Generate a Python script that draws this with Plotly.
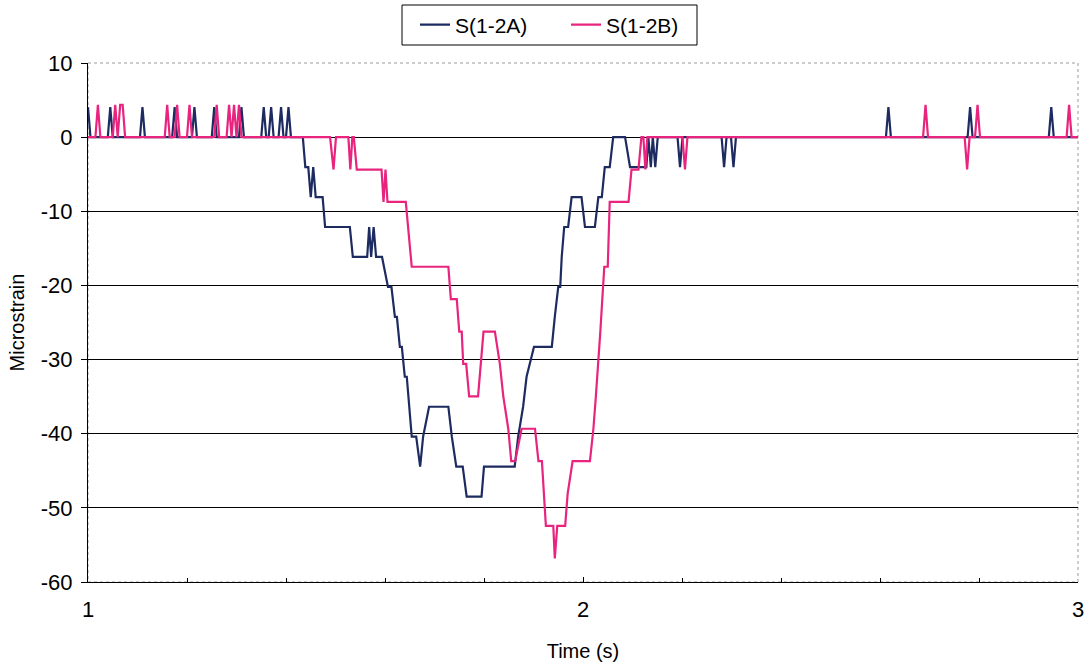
import plotly.graph_objects as go

# ---- data (time in s, microstrain) ----
blue_t = [1.000, 1.005,
          1.040, 1.045, 1.050,
          1.105, 1.110, 1.115,
          1.170, 1.175, 1.180,
          1.210, 1.215, 1.220,
          1.250, 1.255, 1.260,
          1.305, 1.310, 1.315,
          1.350, 1.355, 1.360,
          1.365, 1.370, 1.375,
          1.385, 1.390, 1.395,
          1.400, 1.405, 1.410,
          1.434, 1.439, 1.445, 1.450, 1.455, 1.460, 1.474, 1.479, 1.529, 1.535,
          1.564, 1.568, 1.572, 1.577, 1.582, 1.594, 1.606, 1.613, 1.620, 1.624,
          1.630, 1.634, 1.640, 1.644, 1.654, 1.663, 1.671, 1.677, 1.689, 1.728,
          1.735, 1.744, 1.757, 1.765, 1.795, 1.800, 1.862, 1.869, 1.879, 1.886,
          1.901, 1.937, 1.943, 1.950, 1.954, 1.957, 1.962, 1.970, 1.977, 1.997,
          2.004, 2.024, 2.031, 2.038, 2.044, 2.054, 2.061, 2.085, 2.095, 2.128,
          2.132, 2.137, 2.141, 2.146, 2.151,
          2.191, 2.196, 2.201,
          2.280, 2.285, 2.290,
          2.299, 2.304, 2.309,
          2.612, 2.617, 2.622,
          2.777, 2.782, 2.787,
          2.941, 2.946, 2.951,
          3.000]
blue_v = [4.04, 0,
          0, 4.04, 0,
          0, 4.04, 0,
          0, 4.04, 0,
          0, 4.04, 0,
          0, 4.04, 0,
          0, 4.04, 0,
          0, 4.04, 0,
          0, 4.04, 0,
          0, 4.04, 0,
          0, 4.04, 0,
          0, -4.04, -4.04, -8.08, -4.04, -8.08, -8.08, -12.12, -12.12, -16.16,
          -16.16, -12.12, -16.16, -12.12, -16.16, -16.16, -20.2, -20.2, -24.24, -24.24,
          -28.28, -28.28, -32.32, -32.32, -40.4, -40.4, -44.44, -40.4, -36.36, -36.36,
          -40.4, -44.44, -44.44, -48.48, -48.48, -44.44, -44.44, -40.4, -36.36, -32.32,
          -28.28, -28.28, -24.24, -20.2, -20.2, -16.16, -12.12, -12.12, -8.08, -8.08,
          -12.12, -12.12, -8.08, -8.08, -4.04, -4.04, 0, 0, -4.04, -4.04,
          0, -4.04, 0, -4.04, 0,
          0, -4.04, 0,
          0, -4.04, 0,
          0, -4.04, 0,
          0, 4.04, 0,
          0, 4.04, 0,
          0, 4.04, 0,
          0]

pink_t = [1.000,
          1.015, 1.020, 1.025,
          1.050, 1.055, 1.060, 1.065, 1.070, 1.075,
          1.155, 1.160, 1.165,
          1.175, 1.180, 1.185,
          1.200, 1.205, 1.210,
          1.255, 1.260, 1.265,
          1.280, 1.285, 1.290, 1.295, 1.300, 1.305, 1.310,
          1.489, 1.496, 1.501, 1.526, 1.530, 1.534, 1.537, 1.543, 1.593, 1.597,
          1.601, 1.605, 1.642, 1.654, 1.728, 1.733, 1.745, 1.750, 1.755, 1.758,
          1.764, 1.770, 1.788, 1.799, 1.822, 1.832, 1.839, 1.849, 1.855, 1.863,
          1.876, 1.903, 1.910, 1.917, 1.925, 1.940, 1.943, 1.948, 1.964, 1.969,
          1.979, 2.014, 2.021, 2.026, 2.031, 2.035, 2.039, 2.043, 2.050, 2.054,
          2.092, 2.098, 2.112, 2.118, 2.122, 2.126, 2.130,
          2.201, 2.206, 2.211,
          2.687, 2.692, 2.697,
          2.771, 2.776, 2.781,
          2.792, 2.797, 2.802,
          2.977, 2.982, 2.987,
          3.000]
pink_v = [0,
          0, 4.37, 0,
          0, 4.37, 0, 4.37, 4.37, 0,
          0, 4.37, 0,
          0, 4.37, 0,
          0, 4.37, 0,
          0, 4.37, 0,
          0, 4.37, 0, 4.37, 0, 4.37, 0,
          0, -4.37, 0, 0, -4.37, 0, 0, -4.37, -4.37, -8.74,
          -4.37, -8.74, -8.74, -17.48, -17.48, -21.85, -21.85, -26.22, -26.22, -30.59,
          -30.59, -34.96, -34.96, -26.22, -26.22, -30.59, -34.96, -39.33, -43.7, -43.7,
          -39.33, -39.33, -43.7, -43.7, -52.44, -52.44, -56.81, -52.44, -52.44, -48.07,
          -43.7, -43.7, -39.33, -34.96, -30.59, -26.22, -21.85, -17.48, -17.48, -8.74,
          -8.74, -4.37, -4.37, 0, 0, -4.37, 0,
          0, -4.37, 0,
          0, 4.37, 0,
          0, -4.37, 0,
          0, 4.37, 0,
          0, 4.37, 0,
          0]

series_names = ["S(1-2A)", "S(1-2B)"]
x_ticks = [1, 2, 3]
y_ticks = [10, 0, -10, -20, -30, -40, -50, -60]

FONT = "Liberation Sans, Arial, sans-serif"

# plot area geometry (px)
L, R, T, B = 88, 14, 63, 84
W, H = 1092, 666
PW, PH = W - L - R, H - T - B


def px_x(px):
    return (px - L) / PW


def px_y(py):
    return (H - B - py) / PH


fig = go.Figure()
fig.add_trace(go.Scatter(x=blue_t, y=blue_v, mode="lines", name=series_names[0],
                         line=dict(color="#1d2b60", width=2.2)))
fig.add_trace(go.Scatter(x=pink_t, y=pink_v, mode="lines", name=series_names[1],
                         line=dict(color="#e8247e", width=2.2)))

fig.update_layout(
    width=W, height=H,
    margin=dict(l=L, r=R, t=T, b=B, autoexpand=False),
    paper_bgcolor="white", plot_bgcolor="white",
    font=dict(family=FONT, color="black", size=20),
    showlegend=True,
    legend=dict(orientation="h", x=px_x(415), xanchor="left", y=px_y(25), yanchor="middle",
                borderwidth=0, bgcolor="rgba(0,0,0,0)",
                font=dict(size=21, family=FONT), entrywidth=106,
                traceorder="normal"),
    shapes=[
        dict(type="rect", xref="paper", yref="paper", x0=0, x1=1, y0=0, y1=1,
             line=dict(color="#9a9a9a", width=1, dash="dot"), layer="below"),
        dict(type="rect", xref="paper", yref="paper",
             x0=px_x(402), x1=px_x(697), y0=px_y(45), y1=px_y(5),
             line=dict(color="black", width=1), fillcolor="white", layer="below"),
    ],
)

fig.update_xaxes(range=[1, 3], tickvals=x_ticks, ticktext=[str(v) for v in x_ticks],
                 showgrid=False, zeroline=False,
                 showline=True, linecolor="black", linewidth=1,
                 ticks="inside", ticklen=5, tickcolor="black", ticklabelstandoff=8,
                 minor=dict(dtick=0.2, ticks="inside", ticklen=4, tickcolor="black", showgrid=False),
                 tickfont=dict(size=22, family=FONT),
                 title=dict(text="Time (s)", font=dict(size=20, family=FONT), standoff=22))
fig.update_yaxes(range=[-60, 10], tickvals=y_ticks, ticktext=[str(v) for v in y_ticks],
                 showgrid=True, gridcolor="black", gridwidth=1, zeroline=False,
                 showline=True, linecolor="black", linewidth=1,
                 ticks="outside", ticklen=6, tickcolor="black", ticklabelstandoff=4,
                 tickfont=dict(size=22, family=FONT),
                 title=dict(text="Microstrain", font=dict(size=20, family=FONT), standoff=10))

fig.write_html("out.html")
